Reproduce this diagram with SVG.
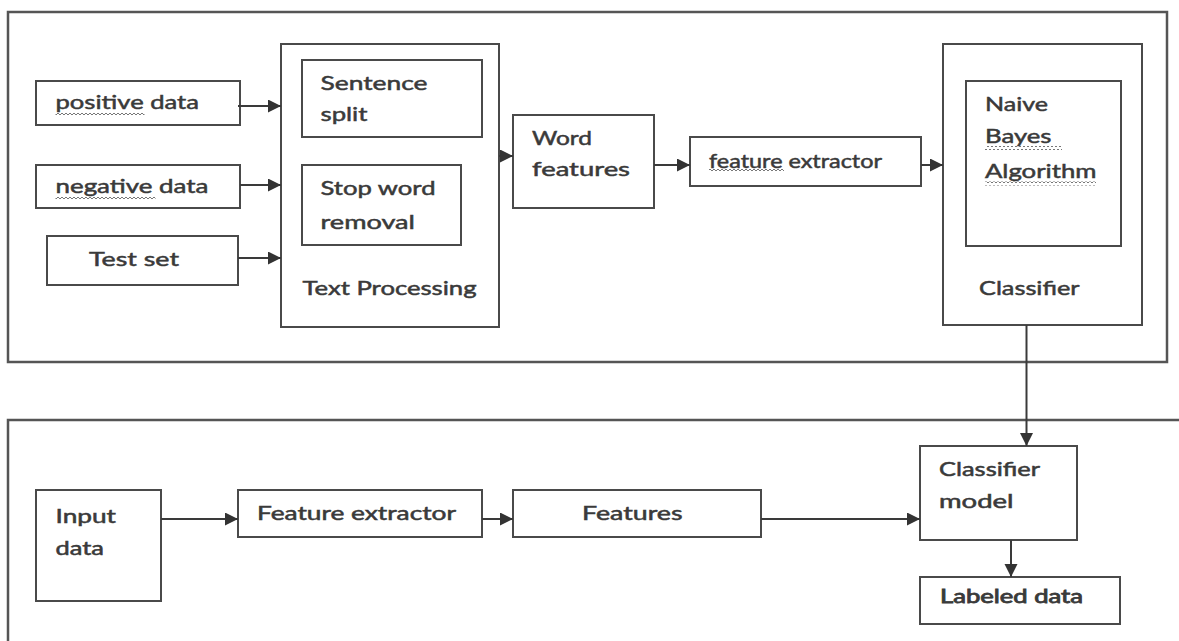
<svg xmlns="http://www.w3.org/2000/svg" width="1179" height="641" viewBox="0 0 1179 641">
<style>
.box{fill:#fff;stroke:#4a4a4a;stroke-width:2}
.frame{fill:none;stroke:#555;stroke-width:2.5}
.con{fill:none;stroke:#3a3a3a;stroke-width:2;marker-end:url(#ah)}
.t{font-family:Lato,"Open Sans","Liberation Sans",sans-serif;font-size:20px;fill:#3a3a3a;stroke:#3a3a3a;stroke-width:0.5}
.b{font-size:18.5px}
.wv{fill:url(#wave)}
</style>
<defs>
<marker id="ah" markerUnits="userSpaceOnUse" markerWidth="14" markerHeight="14" refX="13" refY="6.5" orient="auto">
<path d="M0,0 L13,6.5 L0,13 z" fill="#333"/>
</marker>
<pattern id="wave" patternUnits="userSpaceOnUse" width="4" height="4">
<path d="M0,3 L2,1 L4,3" fill="none" stroke="#777" stroke-width="1"/>
</pattern>
</defs>
<g id="top-frame"><rect class="frame" x="8" y="12" width="1159" height="350"/></g>
<g id="bottom-frame"><path class="frame" d="M1179,420 H8 V641"/></g>
<g id="positive-data"><rect class="box" x="36" y="81" width="204" height="44"/><text class="t" x="55.5" y="109" textLength="143.5" lengthAdjust="spacingAndGlyphs">positive data</text><rect class="wv" x="55.5" y="112" width="89" height="4"/></g>
<g id="negative-data"><rect class="box" x="36" y="165" width="204" height="43"/><text class="t" x="55.5" y="193" textLength="153" lengthAdjust="spacingAndGlyphs">negative data</text><rect class="wv" x="55.5" y="196" width="100" height="4"/></g>
<g id="test-set"><rect class="box" x="47" y="236" width="191" height="49"/><text class="t" x="89" y="266" textLength="90" lengthAdjust="spacingAndGlyphs">Test set</text></g>
<g id="text-processing"><rect class="box" x="281" y="44" width="218" height="283"/><text class="t" x="302.5" y="294.5" textLength="174" lengthAdjust="spacingAndGlyphs">Text Processing</text></g>
<g id="sentence-split"><rect class="box" x="302" y="60" width="180" height="77"/><text class="t" x="320.5" y="90" textLength="107" lengthAdjust="spacingAndGlyphs">Sentence</text><text class="t" x="320.5" y="121" textLength="47" lengthAdjust="spacingAndGlyphs">split</text></g>
<g id="stop-word-removal"><rect class="box" x="302" y="165" width="159" height="80"/><text class="t" x="320.5" y="194.5" textLength="115" lengthAdjust="spacingAndGlyphs">Stop word</text><text class="t" x="320.5" y="229" textLength="94.5" lengthAdjust="spacingAndGlyphs">removal</text></g>
<g id="word-features"><rect class="box" x="513" y="115" width="141" height="93"/><text class="t" x="532" y="145" textLength="60" lengthAdjust="spacingAndGlyphs">Word</text><text class="t" x="532" y="176" textLength="98" lengthAdjust="spacingAndGlyphs">features</text></g>
<g id="feature-extractor-top"><rect class="box" x="690" y="137" width="231" height="49"/><text class="t" x="709" y="168" textLength="173" lengthAdjust="spacingAndGlyphs">feature extractor</text><rect class="wv" x="709" y="168" width="75" height="4"/></g>
<g id="classifier"><rect class="box" x="943" y="44" width="199" height="281"/><text class="t" x="979" y="294.5" textLength="100.5" lengthAdjust="spacingAndGlyphs">Classifier</text></g>
<g id="naive-bayes"><rect class="box" x="966" y="81" width="155" height="165"/><text class="t" x="985" y="111" textLength="63" lengthAdjust="spacingAndGlyphs">Naive</text><text class="t" x="985" y="143" textLength="66.5" lengthAdjust="spacingAndGlyphs">Bayes</text><rect class="wv" x="985" y="146" width="77" height="4"/><text class="t" x="985" y="178" textLength="111.5" lengthAdjust="spacingAndGlyphs">Algorithm</text><rect class="wv" x="985" y="181.5" width="111" height="4"/></g>
<g id="input-data"><rect class="box" x="36" y="490" width="125" height="111"/><text class="t b" x="55.5" y="523" textLength="60.5" lengthAdjust="spacingAndGlyphs">Input</text><text class="t b" x="55.5" y="555" textLength="48.5" lengthAdjust="spacingAndGlyphs">data</text></g>
<g id="feature-extractor"><rect class="box" x="238" y="490" width="244" height="47"/><text class="t b" x="257" y="520" textLength="199" lengthAdjust="spacingAndGlyphs">Feature extractor</text></g>
<g id="features"><rect class="box" x="513" y="490" width="248" height="47"/><text class="t b" x="582" y="520" textLength="100.5" lengthAdjust="spacingAndGlyphs">Features</text></g>
<g id="classifier-model"><rect class="box" x="920" y="446" width="157" height="94"/><text class="t b" x="939" y="476" textLength="101" lengthAdjust="spacingAndGlyphs">Classifier</text><text class="t b" x="939" y="508" textLength="74.5" lengthAdjust="spacingAndGlyphs">model</text></g>
<g id="labeled-data"><rect class="box" x="920" y="577" width="200" height="47"/><text class="t b" x="940" y="603" textLength="143" lengthAdjust="spacingAndGlyphs" style="stroke-width:0.8">Labeled data</text></g>
<g id="connectors">
<path class="con" d="M238,106 H281"/>
<path class="con" d="M240,185 H281"/>
<path class="con" d="M238,258 H281"/>
<path class="con" d="M499,156 H513"/>
<path class="con" d="M654,165 H690"/>
<path class="con" d="M921,165 H943"/>
<path class="con" d="M1026.5,325 V446"/>
<path class="con" d="M161,519 H238"/>
<path class="con" d="M482,519 H513"/>
<path class="con" d="M761,519 H920"/>
<path class="con" d="M1011,540 V577"/>
</g>
</svg>
